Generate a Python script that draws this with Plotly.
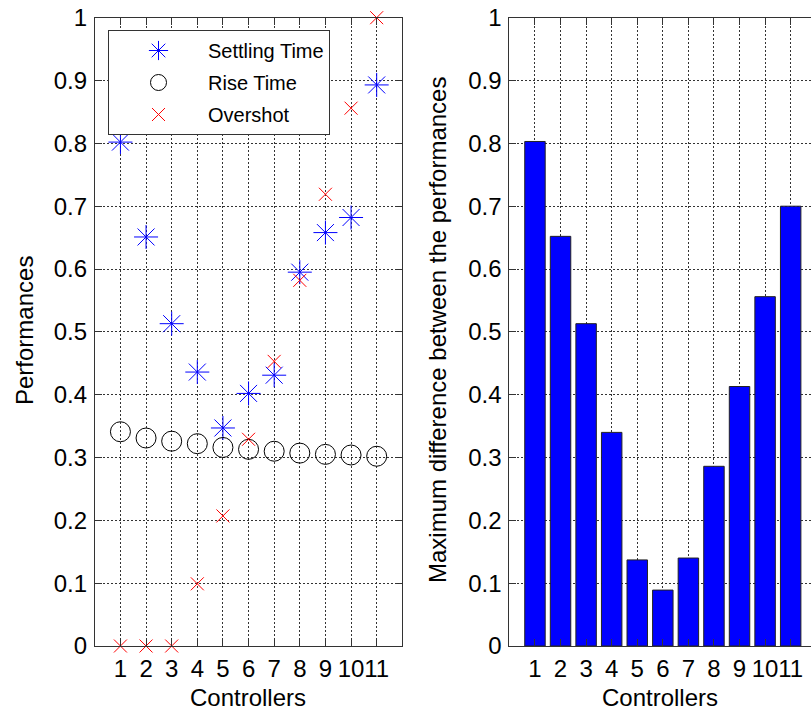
import plotly.graph_objects as go

# Controller indices shared by both panels
controllers = list(range(1, 12))

# Normalised performance measures per controller
settling_time = [0.802, 0.651, 0.513, 0.436, 0.347, 0.402, 0.431, 0.595, 0.658, 0.682, 0.893]
rise_time = [0.341, 0.331, 0.326, 0.322, 0.316, 0.313, 0.310, 0.307, 0.305, 0.304, 0.302]
overshot = [0.0, 0.0, 0.0, 0.099, 0.207, 0.329, 0.453, 0.582, 0.719, 0.856, 1.0]

# Largest spread between the three measures for each controller
max_difference = [0.803, 0.652, 0.513, 0.340, 0.137, 0.089, 0.140, 0.286, 0.413, 0.556, 0.700]

y_ticks = [0, 0.1, 0.2, 0.3, 0.4, 0.5, 0.6, 0.7, 0.8, 0.9, 1]
y_tick_labels = ["0", "0.1", "0.2", "0.3", "0.4", "0.5", "0.6", "0.7", "0.8", "0.9", "1"]

W, H = 811, 717
FONT = "Arial, Liberation Sans, sans-serif"
AXIS_COLOR = "#333333"
GRID_COLOR = "#333333"


def px_x(p):
    return p / W


def px_y(p):
    return 1 - p / H


fig = go.Figure()

fig.add_trace(go.Scatter(
    x=controllers, y=settling_time, name="Settling Time", mode="markers",
    legendgroup="st",
    marker=dict(symbol="asterisk-open", size=20, color="#0000ff",
                line=dict(color="#0000ff", width=1)),
    cliponaxis=False, xaxis="x", yaxis="y"))
fig.add_trace(go.Scatter(
    x=controllers, y=rise_time, name="Rise Time", mode="markers",
    legendgroup="rt",
    marker=dict(symbol="circle-open", size=20, color="#000000",
                line=dict(color="#000000", width=1)),
    cliponaxis=False, xaxis="x", yaxis="y"))
fig.add_trace(go.Scatter(
    x=controllers, y=overshot, name="Overshot", mode="markers",
    legendgroup="os",
    marker=dict(symbol="x-thin-open", size=13, color="#ff0000",
                line=dict(color="#ff0000", width=1)),
    cliponaxis=False, xaxis="x", yaxis="y"))

fig.add_trace(go.Bar(
    x=controllers, y=max_difference, width=0.8, showlegend=False,
    marker=dict(color="#0000ff", line=dict(color="#222222", width=1)),
    xaxis="x2", yaxis="y2"))

y_dom = [px_y(646), px_y(17.7)]

common_axis = dict(
    showline=True, linecolor=AXIS_COLOR, linewidth=1,
    ticks="inside", ticklen=7, tickcolor=AXIS_COLOR, tickwidth=1,
    showgrid=True, gridcolor=GRID_COLOR, gridwidth=1, griddash="2px,2px",
    zeroline=False, tickfont=dict(family=FONT, size=24, color="#000000"),
    automargin=False,
)

fig.update_layout(
    width=W, height=H,
    margin=dict(l=0, r=0, t=0, b=0),
    paper_bgcolor="white", plot_bgcolor="white",
    font=dict(family=FONT, color="#000000"),
    xaxis=dict(common_axis, domain=[px_x(94.8), px_x(402.3)], range=[0, 12],
               tickvals=controllers, mirror="ticks", anchor="y",
               tickangle=0, ticklabelstandoff=1),
    yaxis=dict(common_axis, domain=y_dom, range=[0, 1],
               tickvals=y_ticks, ticktext=y_tick_labels, mirror="ticks",
               anchor="x", ticklabelstandoff=2),
    xaxis2=dict(common_axis, domain=[px_x(509.4), 1.0],
                range=[0, (811 - 509.4) / 25.57],
                tickvals=controllers, mirror="ticks", anchor="y2",
                tickangle=0, ticklabelstandoff=1),
    yaxis2=dict(common_axis, domain=y_dom, range=[0, 1],
                tickvals=y_ticks, ticktext=y_tick_labels, mirror=False,
                anchor="x2", ticklabelstandoff=2),
    legend=dict(
        x=px_x(108), y=px_y(30), xanchor="left", yanchor="top",
        bgcolor="white", bordercolor=AXIS_COLOR, borderwidth=1,
        font=dict(family=FONT, size=20, color="#000000"),
        itemwidth=89, tracegroupgap=3,
    ),
    annotations=[
        dict(text="Performances", x=px_x(24), y=px_y(331), xref="paper", yref="paper",
             textangle=-90, showarrow=False, xanchor="center", yanchor="middle",
             font=dict(family=FONT, size=24, color="#000000")),
        dict(text="Controllers", x=px_x(248), y=px_y(697), xref="paper", yref="paper",
             showarrow=False, xanchor="center", yanchor="middle",
             font=dict(family=FONT, size=24, color="#000000")),
        dict(text="Maximum difference between the performances", x=px_x(437), y=px_y(330),
             xref="paper", yref="paper", textangle=-90, showarrow=False,
             xanchor="center", yanchor="middle",
             font=dict(family=FONT, size=24, color="#000000")),
        dict(text="Controllers", x=px_x(660), y=px_y(697), xref="paper", yref="paper",
             showarrow=False, xanchor="center", yanchor="middle",
             font=dict(family=FONT, size=24, color="#000000")),
    ],
)

fig.write_html("out.html")
